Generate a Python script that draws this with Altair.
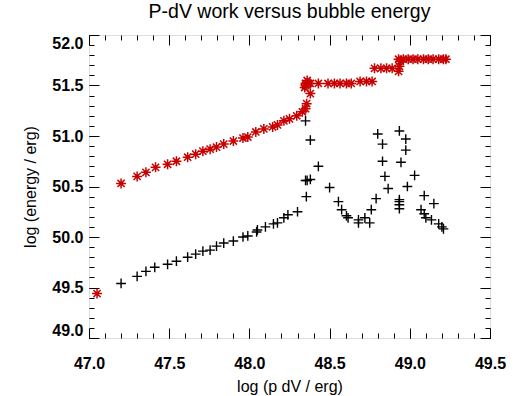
import altair as alt
import pandas as pd

# Red asterisks (bubble energy)
red_x = [47.05, 47.20, 47.30, 47.355, 47.415, 47.49, 47.545, 47.615, 47.665, 47.71,
         47.755, 47.795, 47.84, 47.90, 47.96, 47.99, 48.04, 48.09, 48.145, 48.175,
         48.215, 48.25, 48.295, 48.33, 48.35, 48.357, 48.38, 48.345, 48.35, 48.36,
         48.37, 48.38, 48.35, 48.43, 48.49, 48.53, 48.565, 48.605, 48.635, 48.69,
         48.73, 48.765, 48.78, 48.82, 48.855, 48.89, 48.93, 48.935, 48.94, 48.93,
         48.96, 48.99, 49.02, 49.05, 49.085, 49.115, 49.145, 49.18, 49.21, 49.225]
red_y = [49.44, 50.53, 50.60, 50.64, 50.69, 50.72, 50.75, 50.79, 50.82, 50.85,
         50.87, 50.89, 50.92, 50.95, 50.98, 50.99, 51.04, 51.07, 51.09, 51.11,
         51.15, 51.17, 51.20, 51.24, 51.27, 51.32, 51.42, 51.48, 51.52, 51.55,
         51.52, 51.52, 51.50, 51.52, 51.52, 51.52, 51.52, 51.52, 51.52, 51.54,
         51.54, 51.54, 51.67, 51.67, 51.67, 51.67, 51.64, 51.69, 51.74, 51.76,
         51.76, 51.76, 51.76, 51.76, 51.76, 51.76, 51.76, 51.76, 51.76, 51.76]

# Black crosses (P-dV work)
blk_x = [47.20, 47.30, 47.355, 47.41, 47.49, 47.545, 47.615, 47.665, 47.71, 47.755,
         47.795, 47.84, 47.90, 47.96, 47.99, 48.045, 48.05, 48.10, 48.15, 48.175,
         48.215, 48.24, 48.30, 48.355, 48.35, 48.36, 48.38, 48.35, 48.38, 48.43,
         48.50, 48.555, 48.575, 48.605, 48.615, 48.68, 48.68, 48.72, 48.75, 48.76,
         48.79, 48.865, 48.845, 48.83, 48.83, 48.80, 48.935, 48.975, 48.975, 48.945,
         48.985, 49.03, 48.935, 48.935, 48.935, 48.935, 49.09, 49.15, 49.07, 49.09,
         49.10, 49.135, 49.18, 49.20, 49.21]
blk_y = [49.54, 49.61, 49.66, 49.70, 49.73, 49.76, 49.80, 49.83, 49.86, 49.87,
         49.91, 49.94, 49.96, 50.00, 50.01, 50.05, 50.07, 50.10, 50.13, 50.14,
         50.19, 50.22, 50.25, 50.40, 50.56, 50.56, 50.57, 51.15, 50.96, 50.70,
         50.49, 50.35, 50.27, 50.21, 50.19, 50.17, 50.14, 50.19, 50.14, 50.27,
         50.38, 50.48, 50.60, 50.75, 50.92, 51.02, 51.05, 50.97, 50.86, 50.74,
         50.50, 50.61, 50.37, 50.35, 50.32, 50.28, 50.41, 50.33, 50.27, 50.23,
         50.19, 50.17, 50.13, 50.10, 50.08]

x_major = [47.0, 47.5, 48.0, 48.5, 49.0, 49.5]
y_major = [49.0, 49.5, 50.0, 50.5, 51.0, 51.5, 52.0]
x_minor = [round(47.0 + 0.1 * i, 1) for i in range(26)]
y_minor = [round(49.0 + 0.1 * i, 1) for i in range(31)]

red = pd.DataFrame({"x": red_x, "y": red_y})
blk = pd.DataFrame({"x": blk_x, "y": blk_y})

W, H = 401, 303
FONT = "Liberation Sans"
MAJ, MIN = 10, 5

xs = alt.Scale(domain=[47.0, 49.5], nice=False, zero=False)
ys = alt.Scale(domain=[49.0, 52.0], nice=False, zero=False)

PLUS = "M-1,0L1,0M0,-1L0,1"
STAR = "M-1,0L1,0M0,-1L0,1M-0.72,-0.72L0.72,0.72M-0.72,0.72L0.72,-0.72"

major_x_axis = alt.Axis(values=x_major, format=".1f", orient="bottom", ticks=False, tickSize=0,
                        domain=False, grid=True, gridColor="black", gridOpacity=1, gridWidth=1,
                        gridDash=[MAJ, H - 2 * MAJ], labelFontSize=16, labelColor="black",
                        labelFont=FONT, labelFontWeight="bold", labelFlush=False,
                        labelPadding=17, title="log (p dV / erg)", titleFont=FONT,
                        titleFontSize=16, titleFontWeight="normal", titleColor="black",
                        titlePadding=7)
major_y_axis = alt.Axis(values=y_major, format=".1f", orient="left", ticks=False, tickSize=0,
                        domain=False, grid=True, gridColor="black", gridOpacity=1, gridWidth=1,
                        gridDash=[MAJ, W - 2 * MAJ], labelFontSize=16, labelColor="black",
                        labelFont=FONT, labelFontWeight="bold", labelFlush=True,
                        labelPadding=6, title="log (energy / erg)", titleFont=FONT,
                        titleFontSize=16, titleFontWeight="normal", titleColor="black",
                        titlePadding=13)
minor_x_axis = alt.Axis(values=x_minor, orient="bottom", ticks=False, tickSize=0, labels=False,
                        domain=False, grid=True, gridColor="black", gridOpacity=1, gridWidth=1,
                        gridDash=[MIN, H - 2 * MIN], title=None)
minor_y_axis = alt.Axis(values=y_minor, orient="left", ticks=False, tickSize=0, labels=False,
                        domain=False, grid=True, gridColor="black", gridOpacity=1, gridWidth=1,
                        gridDash=[MIN, W - 2 * MIN], title=None)

black_layer = alt.Chart(blk).mark_point(shape=PLUS, size=95, color="black", strokeWidth=1.4,
                                        filled=False, opacity=1).encode(
    x=alt.X("x:Q", scale=xs, axis=major_x_axis),
    y=alt.Y("y:Q", scale=ys, axis=major_y_axis),
)
red_layer = alt.Chart(red).mark_point(shape=STAR, size=100, color="#c80000", strokeWidth=1.5,
                                      filled=False, opacity=1).encode(
    x=alt.X("x:Q", scale=xs, axis=minor_x_axis),
    y=alt.Y("y:Q", scale=ys, axis=minor_y_axis),
)

chart = alt.layer(black_layer, red_layer).resolve_axis(
    x="independent", y="independent"
).properties(
    width=W, height=H,
    title=alt.TitleParams("P-dV work versus bubble energy", font=FONT, fontSize=19.5,
                          fontWeight="normal", color="black", anchor="middle", offset=13),
    autosize=alt.AutoSizeParams(type="none"),
    padding={"left": 89, "top": 35, "right": 29, "bottom": 58},
).configure_view(stroke="black", strokeWidth=1).configure(background="white")

chart.save("out.html", embed_options={"renderer": "svg", "actions": False})
